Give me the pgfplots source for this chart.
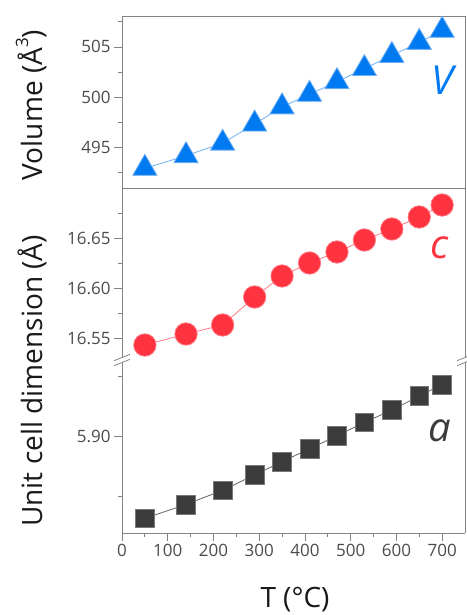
\documentclass[border=0pt]{standalone}
\usepackage{fontspec}
\setmainfont{Open Sans}
\usepackage{pgfplots}
\pgfplotsset{compat=1.18}

\definecolor{vblue}{RGB}{0,122,240}
\definecolor{vline}{RGB}{110,175,245}
\definecolor{cred}{RGB}{255,51,64}
\definecolor{cline}{RGB}{255,120,130}
\definecolor{asq}{RGB}{60,60,60}
\definecolor{asqb}{RGB}{120,120,120}
\definecolor{aline}{RGB}{100,100,100}
\definecolor{axgray}{RGB}{130,130,130}
\definecolor{tlgray}{RGB}{75,75,75}
\definecolor{lblack}{RGB}{25,25,25}

\pgfplotsset{
  base/.style={
    scale only axis, width=343bp, xmin=0, xmax=750, clip=false,
    anchor=south west,
    tick align=outside, major tick length=8bp, minor tick length=4.5bp,
    every tick/.style={axgray, line width=0.8bp},
    axis line style={axgray, line width=0.8bp},
    ticklabel style={font=\fontsize{17bp}{20bp}\selectfont, text=tlgray},
    /pgf/number format/assume math mode=true,
  }
}

\begin{document}
\begin{tikzpicture}[x=1bp,y=1bp]
\path[use as bounding box] (0,0) rectangle (467,615);

% top panel: volume
\begin{axis}[base, at={(122bp,427bp)}, height=172bp,
  ymin=491, ymax=508.07,
  ytick={495,500,505}, minor ytick={492.5,497.5,502.5,507.5},
  xtick=\empty, ytick pos=left]
\addplot[vline, line width=0.8bp, mark=triangle*, mark size=14bp,
  mark options={draw=none, fill=vblue}] coordinates {
(50,492.95) (140,494.2) (220,495.45) (290,497.35) (350,499.05) (410,500.3)
(470,501.55) (530,502.85) (590,504.15) (650,505.45) (700,506.65)};
\end{axis}

% middle panel: c
\begin{axis}[base, at={(122bp,255bp)}, height=172bp,
  ymin=16.528, ymax=16.700,
  axis x line=none, axis y line*=box,
  ytick={16.55,16.60,16.65}, minor ytick={16.575,16.625,16.675},
  yticklabel style={/pgf/number format/.cd, fixed, fixed zerofill, precision=2},
  xtick=\empty, ytick pos=left]
\addplot[cline, line width=0.8bp, mark=*, mark size=11.2bp,
  mark options={draw=none, fill=cred}] coordinates {
(50,16.543) (140,16.554) (220,16.563) (290,16.591) (350,16.612) (410,16.625)
(470,16.636) (530,16.648) (590,16.659) (650,16.671) (700,16.683)};
\end{axis}

% bottom panel: a
\begin{axis}[base, at={(122bp,82bp)}, height=173bp,
  ymin=5.8596, ymax=5.9317,
  axis x line*=bottom, axis y line*=box,
  xtick={0,100,...,700}, minor xtick={50,150,...,650},
  ytick={5.85,5.90,5.95}, minor ytick={5.875,5.925},
  yticklabel style={/pgf/number format/.cd, fixed, fixed zerofill, precision=2},
  ytick pos=left, xtick pos=bottom]
\addplot[aline, line width=0.8bp, mark=square*, mark size=9.4bp,
  mark options={draw=asqb, line width=0.6bp, fill=asq}] coordinates {
(50,5.8657) (140,5.8715) (220,5.8774) (290,5.8838) (350,5.8893) (410,5.8947)
(470,5.9001) (530,5.9057) (590,5.9108) (650,5.9167) (700,5.9215)};
\end{axis}

% axis break marks
\foreach \xx in {122,465} {
  \fill[white] (\xx-3,251.3) -- (\xx+3,253.7) -- (\xx+3,258.7) -- (\xx-3,256.3) -- cycle;
  \draw[axgray, line width=0.8bp] (\xx-8,249.3) -- (\xx+8,255.7);
  \draw[axgray, line width=0.8bp] (\xx-8,254.3) -- (\xx+8,260.7);
}

% labels
\node[rotate=90, anchor=base, text=lblack, font=\fontsize{28bp}{30bp}\selectfont] at (42,510) {Volume (Å\raisebox{0.5em}{\fontsize{17bp}{17bp}\selectfont 3})};
\node[rotate=90, anchor=base, text=lblack, font=\fontsize{28bp}{30bp}\selectfont] at (42,234) {Unit cell dimension (Å)};
\node[anchor=base, text=lblack, font=\fontsize{28bp}{30bp}\selectfont] at (295,7) {T (°C)};

\node[anchor=base, text=vblue, font=\fontsize{40bp}{40bp}\selectfont\itshape] at (442,520) {V};
\node[anchor=base, text=cred, font=\fontsize{40bp}{40bp}\selectfont\itshape] at (440,356) {c};
\node[anchor=base, text=asq, font=\fontsize{40bp}{40bp}\selectfont\itshape] at (440,173) {a};
\end{tikzpicture}
\end{document}
